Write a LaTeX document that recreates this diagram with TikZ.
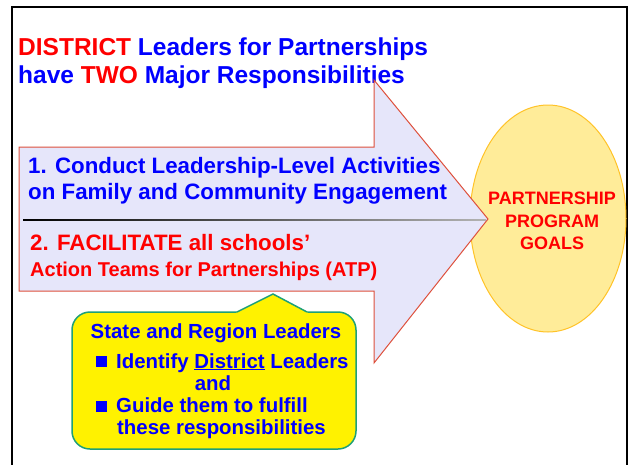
\documentclass[tikz,border=0pt]{standalone}
\usepackage{fontspec}
\setmainfont{Liberation Sans}
\usepackage{tikz}
\usetikzlibrary{positioning}
\usetikzlibrary{shapes.geometric}

\definecolor{arrowfill}{RGB}{230,230,250}
\definecolor{arrowline}{RGB}{222,80,60}
\definecolor{goalfill}{RGB}{255,236,153}
\definecolor{goalline}{RGB}{255,195,40}
\definecolor{calloutline}{RGB}{30,160,120}

\begin{document}
\begin{tikzpicture}[x=1pt, y=-1pt,
			titlenode/.style={anchor=base west, inner sep=0pt, text=blue, font=\fontsize{24.5}{28}\selectfont\bfseries},
			itemnode/.style={anchor=base west, inner sep=0pt, font=\fontsize{22.3}{26}\selectfont\bfseries},
			goalnode/.style={ellipse, draw=goalline, fill=goalfill, line width=1pt, minimum width=156pt, minimum height=227pt, inner sep=0pt},
			goaltext/.style={align=center, inner sep=0pt, text=red, font=\fontsize{18}{22.5}\selectfont\bfseries},
			calloutbox/.style={draw=calloutline, fill=yellow, line width=1.5pt, rounded corners=18pt, minimum width=284pt, minimum height=137pt},
			callouttext/.style={anchor=base west, inner sep=0pt, text=blue, font=\fontsize{20.4}{22}\selectfont\bfseries},
			bulletbox/.style={fill=blue, inner sep=0pt, minimum size=11pt}
			]
			\useasboundingbox (0,0) rectangle (630,464);
			
			% frame
			\draw[line width=2.5pt] (12,470) -- (12,7) -- (627,7) -- (627,470);
			
			% title
			\node[titlenode] at (18,55) (title1) {\textcolor{red}{DISTRICT} Leaders for Partnerships};
			\node[titlenode] at (18,83) (title2) {have \textcolor{red}{TWO} Major Responsibilities};
			
			% goals
			\node[goalnode] at (548,218.5) (goals) {};
			\node[goaltext] at (552,221) (goalstext) {PARTNERSHIP\\PROGRAM\\GOALS};
			
			% big arrow
			\draw[arrowline, fill=arrowfill, line width=1pt] (19,147) -- (374,147) -- (374,80) -- (488,219) -- (374,363) -- (374,291) -- (19,291) -- cycle;
			\shade[left color=black, right color=gray!60] (23,219.3) rectangle (486,220.8);
			
			\node[itemnode, text=blue] at (28,173) (item1a) {1. Conduct Leadership-Level Activities};
			\node[itemnode, text=blue] at (28,199) (item1b) {on Family and Community Engagement};
			\node[itemnode, text=red] at (30,250) (item2a) {2. FACILITATE all schools’};
			\node[itemnode, text=red, font=\fontsize{20}{24}\selectfont\bfseries] at (30,276) (item2b) {Action Teams for Partnerships (ATP)};
			
			% callout
			\node[calloutbox] at (214,380.5) (callout) {};
			\fill[yellow] (236,313.6) -- (237,312) -- (273,294) -- (307,312) -- (308,313.6) -- cycle;
			\draw[calloutline, line width=1.5pt] (237,312) -- (273,294) -- (307,312);
			
			\node[callouttext, anchor=base] at (216,338) (lead) {State and Region Leaders};
			\node[bulletbox] at (101.5,361.5) (dot1) {};
			\node[callouttext] at (116,368) (ident) {Identify \underline{District} Leaders};
			\node[callouttext, anchor=base] at (213,390) (and) {and};
			\node[bulletbox] at (101.5,406) (dot2) {};
			\node[callouttext] at (116,412) (guide) {Guide them to fulfill};
			\node[callouttext] at (117,434) (resp) {these responsibilities};
		\end{tikzpicture}
\end{document}
